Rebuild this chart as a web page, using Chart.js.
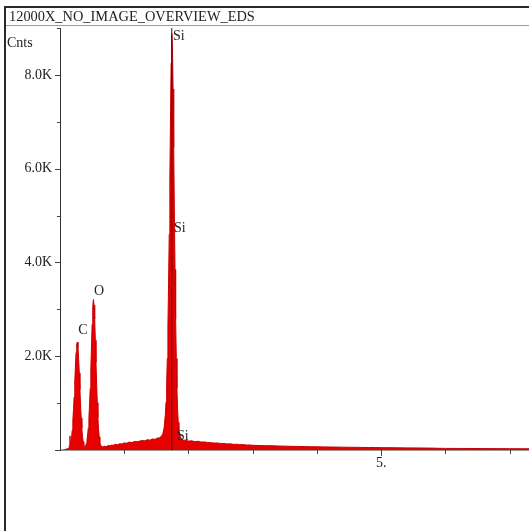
<!DOCTYPE html>
<html>
<head>
<meta charset="utf-8">
<script src="https://cdn.jsdelivr.net/npm/chart.js@4.4.1/dist/chart.umd.min.js"></script>
<style>
  html, body { margin:0; padding:0; background:#fff; }
  body { width:529px; height:531px; position:relative; overflow:hidden; font-family:"Liberation Serif","Times New Roman",serif; }
  #c { position:absolute; left:0; top:0; }
  .frameL { position:absolute; left:4px; top:6px; width:2px; height:525px; background:#2a2a2a; }
  .frameT { position:absolute; left:4px; top:6px; width:525px; height:2px; background:#2a2a2a; }
  .sep { position:absolute; left:6px; top:25px; width:523px; height:1px; background:#9a9a9a; }
  .title { position:absolute; left:9px; top:8px; font-size:14.4px; color:#222; line-height:17px; white-space:nowrap; }
  .cnts { position:absolute; left:7px; top:35px; font-size:14px; color:#222; line-height:16px; }
</style>
</head>
<body>
<canvas id="c" width="529" height="531"></canvas>
<div class="frameL"></div>
<div class="frameT"></div>
<div class="sep"></div>
<div class="title">12000X_NO_IMAGE_OVERVIEW_EDS</div>
<div class="cnts">Cnts</div>
<script>
// ---- data ----
const energies = [
  0.00,0.04,0.07,0.10,0.13,0.14,0.15,0.155,0.16,0.17,0.18,0.19,0.20,0.21,0.22,0.23,0.24,0.25,
  0.26,0.27,0.28,0.29,0.30,0.31,0.32,0.33,0.34,0.35,0.36,0.37,0.38,0.39,0.40,0.41,0.42,0.43,0.44,0.45,
  0.46,0.47,0.48,0.49,0.50,0.51,0.52,0.53,0.54,0.55,0.56,0.57,0.58,0.59,0.60,0.61,0.62,0.63,0.64,0.66,
  0.68,0.70,0.72,0.75,0.78,0.80,0.83,0.86,0.90,0.93,0.96,1.00,1.04,1.08,1.12,1.16,1.20,1.24,1.28,1.32,
  1.36,1.40,1.44,1.48,1.52,1.55,1.58,1.60,1.62,1.64,1.65,1.66,1.67,1.68,1.69,1.70,1.71,1.72,1.73,1.74,
  1.75,1.76,1.77,1.78,1.79,1.80,1.81,1.82,1.83,1.84,1.85,1.87,1.89,1.92,1.96,2.00,2.05,2.10,2.15,2.20,
  2.25,2.30,2.35,2.40,2.45,2.50,2.55,2.60,2.65,2.70,2.75,2.80,2.85,2.90,2.95,3.00,3.10,3.20,3.30,3.40,
  3.50,3.60,3.70,3.80,3.90,4.00,4.10,4.20,4.30,4.40,4.50,4.60,4.70,4.80,4.90,5.00,5.20,5.40,5.60,5.80,
  5.90,6.00,6.20,6.40,6.60,6.80,7.00,7.20,7.30
];
const counts = [
  0,0,5,20,30,45,110,300,120,170,260,420,630,860,1130,1450,1790,2080,
  2260,2300,2180,1950,1640,1290,960,680,460,290,180,120,85,70,95,140,210,320,470,690,
  970,1310,1730,2200,2680,3060,3210,3090,2790,2340,1870,1410,1010,690,440,280,175,115,85,70,
  75,80,72,95,88,105,100,120,112,135,128,150,145,170,158,182,175,190,200,196,
  220,210,235,228,255,262,300,340,470,760,1020,1400,1950,2650,3550,4600,5800,7100,8250,8880,
  8600,7700,6450,5100,3850,2800,1950,1320,880,590,420,300,240,210,205,190,195,178,186,168,
  172,160,155,148,150,138,140,128,132,120,124,112,115,105,108,100,96,92,90,85,
  82,78,76,72,70,68,66,64,62,60,58,57,55,53,52,50,48,45,43,40,
  36,34,33,32,30,29,28,27,26
];
const markerEnergy = [1.74, 1.74];
const markerCounts = [0, 9000];
const yTickLabels = { 2000:'2.0K', 4000:'4.0K', 6000:'6.0K', 8000:'8.0K' };
const xTickLabels = { 5:'5.' };
const peakNames  = ['Si','Si','Si','C','O'];
const peakEnergy = [1.759, 1.774, 1.82, 0.358, 0.607];
const peakCounts = [8830, 4733, 292, 2556, 3388];
const peakAlign  = ['left','left','left','center','center'];

const spectrum = energies.map((e,i)=>({x:e, y:counts[i]}));
const marker = markerEnergy.map((e,i)=>({x:e, y:markerCounts[i]}));

const tickPlugin = {
  id:'ticks',
  afterDraw(chart){
    const ctx = chart.ctx, ys = chart.scales.y, xs = chart.scales.x, a = chart.chartArea;
    ctx.save();
    ctx.strokeStyle = '#444'; ctx.lineWidth = 1;
    ys.ticks.forEach(t=>{
      const py = Math.round(ys.getPixelForValue(t.value)) + 0.5;
      const len = t.value % 2000 === 0 ? 5 : 3;
      ctx.beginPath(); ctx.moveTo(a.left - len, py); ctx.lineTo(a.left, py); ctx.stroke();
    });
    xs.ticks.forEach(t=>{
      if (t.value <= 0) return;
      const px = Math.round(xs.getPixelForValue(t.value)) + 0.5;
      const len = t.value === 5 ? 6 : 4;
      ctx.beginPath(); ctx.moveTo(px, a.bottom); ctx.lineTo(px, a.bottom + len); ctx.stroke();
    });
    // peak labels
    ctx.fillStyle = '#222';
    ctx.font = '14px "Liberation Serif", serif';
    ctx.textBaseline = 'middle';
    peakNames.forEach((n,i)=>{
      ctx.textAlign = peakAlign[i];
      ctx.fillText(n, xs.getPixelForValue(peakEnergy[i]), ys.getPixelForValue(peakCounts[i]));
    });
    ctx.restore();
  }
};

new Chart(document.getElementById('c'), {
  type:'scatter',
  data:{
    datasets:[
      { data: marker, showLine:true, borderColor:'#4a0808', borderWidth:1, pointRadius:0, fill:false, order:0 },
      { data: spectrum, showLine:true, borderColor:'#c80000', backgroundColor:'#e60000', borderWidth:1, pointRadius:0, fill:'origin', tension:0, order:1 }
    ]
  },
  options:{
    responsive:false, animation:false, devicePixelRatio:1,
    layout:{ padding:{ left:0, right:0, top:28, bottom:0 } },
    plugins:{ legend:{display:false}, tooltip:{enabled:false} },
    scales:{
      x:{
        type:'linear', min:0, max:7.3,
        ticks:{ stepSize:1, includeBounds:false, autoSkip:false, maxRotation:0, padding:5,
          color:'#222', font:{ family:'"Liberation Serif", serif', size:14 },
          callback:(v)=> xTickLabels[v] || '' },
        grid:{ display:true, drawOnChartArea:false, drawTicks:false },
        border:{ display:true, color:'#999', width:1 },
        afterFit:(s)=>{ s.height = 81; }
      },
      y:{
        type:'linear', min:0, max:9000,
        ticks:{ stepSize:1000, autoSkip:false, padding:8,
          color:'#222', font:{ family:'"Liberation Serif", serif', size:14 },
          callback:(v)=> yTickLabels[v] || '' },
        grid:{ display:true, drawOnChartArea:false, drawTicks:false },
        border:{ display:true, color:'#333', width:1 },
        afterFit:(s)=>{ s.width = 60; }
      }
    }
  },
  plugins:[tickPlugin]
});
</script>
</body>
</html>
